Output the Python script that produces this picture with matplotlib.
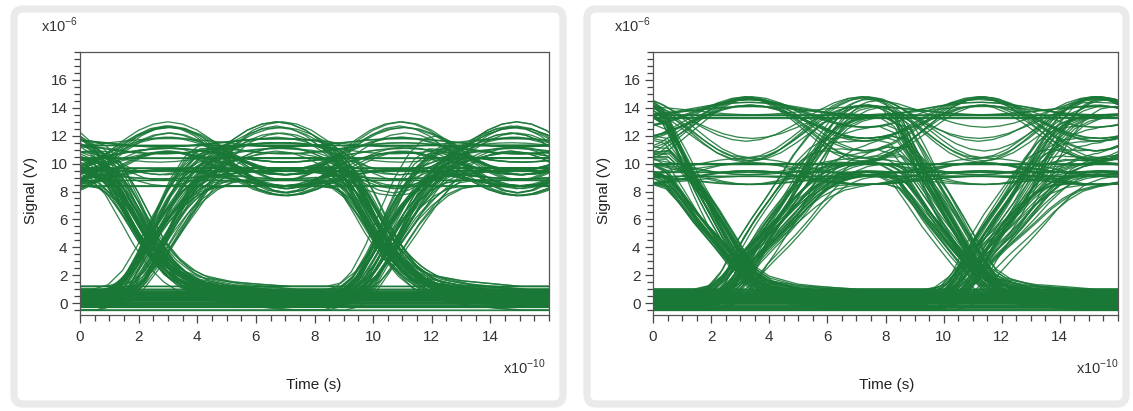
import numpy as np
import matplotlib
matplotlib.use('Agg')
import matplotlib.pyplot as plt
from matplotlib.patches import FancyBboxPatch
from matplotlib.ticker import MultipleLocator

plt.rcParams['font.family'] = ['Liberation Sans', 'DejaVu Sans']
plt.rcParams['mathtext.fontset'] = 'custom'
plt.rcParams['mathtext.rm'] = 'Liberation Sans'

# time in units of 1e-10 s, signal in units of 1e-6 V
t = np.linspace(0, 16, 801)
ui = 8.0  # bit period

# bit patterns for the three bit slots seen in the window
patterns = ["000", "011", "101", "110", "010", "111", "001", "100"]

# one period of the ringing on the high level
ring_tau = [0.0, 0.5, 1.0, 1.5, 2.0, 2.5, 3.0, 3.5, 4.0, 4.5, 5.0, 5.5, 6.0, 6.5, 7.0, 7.5, 8.0]
ring_val = [1.0, 0.92, 0.71, 0.38, 0.0, -0.38, -0.71, -0.92, -1.0, -0.92, -0.71, -0.38, 0.0, 0.38, 0.71, 0.92, 1.0]

# ---- left eye ----
left_rise_tau = [-2.0, -1.5, -1.0, -0.5, 0.0, 0.5, 1.0, 1.5, 2.0, 2.5]
left_rise_val = [0.0, 0.03, 0.13, 0.3, 0.5, 0.68, 0.82, 0.92, 0.98, 1.0]
left_fall_tau = [-2.0, -1.5, -1.0, -0.5, 0.0, 0.5, 1.0, 1.5, 2.0, 3.0, 4.0, 5.0]
left_fall_val = [1.0, 0.98, 0.88, 0.7, 0.5, 0.33, 0.21, 0.13, 0.08, 0.04, 0.02, 0.0]
left_high = [8.4, 10.2, 9.2, 11.3, 9.8, 10.6, 8.8, 10.9, 9.5, 10.9, 10.0, 10.4, 9.0, 11.5,
             10.7, 9.7, 10.3, 11.1, 9.3]
left_ring = [0.0, 2.0, 0.3, 0.0, 1.4, 0.5, 0.0, 1.7, 0.0, 2.1, 0.8, 0.0, 0.6, 0.3, 1.2,
             0.0, 2.4, 0.4, 1.6]
left_low = [0.3, -0.2, 0.6, 0.1, 0.9, 0.4, -0.5, 0.7, 0.2, 1.0, 0.5, 0.0, 0.8, 0.35, -0.1,
            0.55, 1.2, 0.25, 0.65, 0.45, 0.05, 0.75, -0.3]
left_phase = [3.0, 6.9, 3.1, 6.7, 2.9]
left_rise_at = [2.55, 3.15, 2.5, 3.2, 2.6, 3.1, 2.45, 3.25, 2.65, 2.9, 2.4]
left_fall_at = [2.1, 1.85, 2.3, 2.0, 2.2, 1.95, 2.4]
left_jit2 = [0.0, 0.15, -0.1, 0.2, -0.15, 0.05]

# ---- right eye ----
right_rise_tau = [-2.5, -2.0, -1.5, -1.0, -0.5, 0.0, 0.5, 1.0, 1.5, 2.0, 2.5, 3.0]
right_rise_val = [0.0, 0.03, 0.12, 0.27, 0.39, 0.5, 0.62, 0.75, 0.86, 0.94, 0.98, 1.0]
right_fall_tau = [-2.0, -1.5, -1.0, -0.5, 0.0, 0.5, 1.0, 1.5, 2.0, 3.0, 4.0, 5.0]
right_fall_val = [1.0, 0.95, 0.8, 0.64, 0.5, 0.36, 0.23, 0.12, 0.07, 0.03, 0.015, 0.0]
right_high = [13.3, 9.4, 12.6, 13.8, 9.8, 13.0, 9.1, 13.5, 12.4, 9.6, 13.2, 8.8, 13.9, 10.0,
              12.8, 9.3, 13.6, 12.2, 9.0]
right_ring = [0.0, 0.0, 2.2, 0.3, 0.6, 1.2, 0.0, 0.0, 2.3, 0.4, 1.6, 0.3, 0.5, 0.0, 1.9,
              0.8, 1.0, 2.0, 0.5]
right_low = [0.2, -0.3, 0.5, 0.0, 0.7, 0.3, -0.5, 0.6, 0.1, 0.9, 0.4, -0.1, 0.8, 0.25, 0.45,
             -0.2, 1.0, 0.15, 0.55, 0.35, 0.65, 0.05, -0.4]
right_phase = [3.3, 7.2, 3.4, 7.4, 3.2]
right_rise_at = [4.3, 3.9, 4.7, 4.1, 4.5, 3.8, 4.9, 4.2, 4.6, 4.0, 4.4]
right_fall_at = [2.0, 1.9, 2.1, 1.95, 2.05, 1.85, 2.0]
right_jit2 = [0.0, 0.2, -0.1, 0.1, -0.2, 0.3]

n_traces = 210
green = '#1a7837'


def trace(bits, hi, lo, amp, phase, t_rise, t_fall, jit2, shape):
    rise_tau, rise_val, fall_tau, fall_val = shape
    b = np.full_like(t, float(bits[0]))
    for k in range(2):
        a, c = int(bits[k]), int(bits[k + 1])
        d = ui * k + jit2 * k
        if c > a:
            b += np.interp(t - t_rise - d, rise_tau, rise_val)
        elif c < a:
            b -= 1 - np.interp(t - t_fall - d, fall_tau, fall_val)
    ring = np.interp((t - phase) % ui, ring_tau, ring_val)
    return lo + (hi - lo) * b + amp * b * ring


def eye(ax, high, ring, low, phase, rise_at, fall_at, jit2, shape):
    for i in range(n_traces):
        v = trace(patterns[i % len(patterns)], high[i % len(high)], low[i % len(low)],
                  ring[i % len(ring)], phase[i % len(phase)],
                  rise_at[i % len(rise_at)], fall_at[i % len(fall_at)],
                  jit2[i % len(jit2)], shape)
        ax.plot(t, v, color=green, lw=0.95, alpha=0.88)

    ax.set_xlim(0, 16)
    ax.set_ylim(-0.85, 18)
    ax.xaxis.set_minor_locator(MultipleLocator(0.5))
    ax.yaxis.set_minor_locator(MultipleLocator(0.5))
    ax.set_xticks(np.arange(0, 16, 2))
    ax.set_yticks(np.arange(0, 18, 2))
    ax.tick_params(which='major', direction='out', length=6, width=0.9, color='#444444',
                   labelsize=11, labelcolor='#333333', pad=3)
    ax.tick_params(which='minor', direction='out', length=4, width=0.9, color='#444444')
    ax.tick_params(axis='x', pad=5)
    for s in ax.spines.values():
        s.set_color('#555555')
        s.set_linewidth(0.9)


fig = plt.figure(figsize=(11.33, 4.11), dpi=100)
fig.patch.set_facecolor('white')

# panel frames (pixel coordinates)
for x0, w in [(14, 549), (587, 539)]:
    fr = FancyBboxPatch((x0, 7), w, 395, boxstyle='round,pad=0,rounding_size=9',
                        transform=None, facecolor='white', edgecolor='#eaeaea',
                        linewidth=5.2, zorder=-10)
    fig.add_artist(fr)

ax1 = fig.add_axes([80 / 1133, 1 - 315 / 411, 469 / 1133, 263 / 411])
ax2 = fig.add_axes([653 / 1133, 1 - 315 / 411, 465 / 1133, 263 / 411])

eye(ax1, left_high, left_ring, left_low, left_phase, left_rise_at, left_fall_at, left_jit2,
    (left_rise_tau, left_rise_val, left_fall_tau, left_fall_val))
eye(ax2, right_high, right_ring, right_low, right_phase, right_rise_at, right_fall_at,
    right_jit2, (right_rise_tau, right_rise_val, right_fall_tau, right_fall_val))

for ax, off in [(ax1, 0), (ax2, 573)]:
    fig.text((41 + off) / 1133, 1 - 32 / 411, r'x10$^{-6}$', fontsize=10.5, color='#333333',
             ha='left', va='baseline')
    fig.text((31 + off) / 1133, 1 - 190 / 411, 'Signal (V)', fontsize=11, color='#222222',
             rotation=90, ha='center', va='center')
    fig.text((314 + off) / 1133, 1 - 385 / 411, 'Time (s)', fontsize=11, color='#222222',
             ha='center', va='center')
    fig.text((546 + off) / 1133, 1 - 374 / 411, r'x10$^{-10}$', fontsize=10.5, color='#333333',
             ha='right', va='baseline')

fig.savefig('out.png', dpi=100, facecolor='white')
